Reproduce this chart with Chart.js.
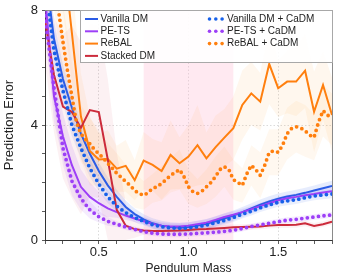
<!DOCTYPE html>
<html>
<head>
<meta charset="utf-8">
<script src="https://cdn.jsdelivr.net/npm/chart.js@4.4.1/dist/chart.umd.min.js"></script>
<style>
  html, body { margin: 0; padding: 0; background: #fff; }
</style>
</head>
<body>
<canvas id="chart" width="349" height="279"></canvas>
<script>
// pendulum masses, 0.05 grid
const masses = [0.20, 0.25, 0.30, 0.35, 0.40, 0.45, 0.50, 0.55, 0.60, 0.65, 0.70,
  0.75, 0.80, 0.85, 0.90, 0.95, 1.00, 1.05, 1.10, 1.15, 1.20, 1.25, 1.30, 1.35,
  1.40, 1.45, 1.50, 1.55, 1.60, 1.65, 1.70, 1.75, 1.80];
// finer grid used by ReBAL + CaDM
const massesFine = [0.200, 0.225, 0.250, 0.275, 0.300, 0.325, 0.350, 0.375, 0.400,
  0.425, 0.450, 0.475, 0.500, 0.525, 0.550, 0.575, 0.600, 0.625, 0.650, 0.675,
  0.700, 0.725, 0.750, 0.775, 0.800, 0.825, 0.850, 0.875, 0.900, 0.925, 0.950,
  0.975, 1.000, 1.025, 1.050, 1.075, 1.100, 1.125, 1.150, 1.175, 1.200, 1.225,
  1.250, 1.275, 1.300, 1.325, 1.350, 1.375, 1.400, 1.425, 1.450, 1.475, 1.500,
  1.525, 1.550, 1.575, 1.600, 1.625, 1.650, 1.675, 1.700, 1.725, 1.750, 1.775, 1.800];

const vanillaDM = [9.5, 7.0, 5.6, 4.6, 3.7, 3.0, 2.4, 1.9, 1.5, 1.15, 0.9, 0.72, 0.58,
  0.5, 0.45, 0.43, 0.45, 0.5, 0.56, 0.65, 0.75, 0.85, 0.97, 1.1, 1.23, 1.34, 1.44,
  1.51, 1.57, 1.64, 1.72, 1.8, 1.88];
const vanillaCaDM = [9.0, 6.6, 5.2, 4.0, 3.2, 2.5, 1.95, 1.5, 1.18, 0.95, 0.78, 0.65,
  0.53, 0.46, 0.42, 0.41, 0.42, 0.46, 0.52, 0.6, 0.68, 0.78, 0.9, 1.0, 1.12, 1.22,
  1.31, 1.36, 1.4, 1.47, 1.53, 1.57, 1.6];
const peTS = [8.5, 5.0, 3.6, 2.6, 1.85, 1.5, 1.28, 1.1, 0.97, 0.85, 0.75, 0.65, 0.56,
  0.5, 0.47, 0.47, 0.5, 0.55, 0.6, 0.7, 0.8, 0.88, 0.97, 1.07, 1.18, 1.28, 1.38,
  1.45, 1.5, 1.56, 1.6, 1.65, 1.7];
const peTSCaDM = [7.8, 5.3, 3.2, 2.05, 1.45, 1.05, 0.81, 0.65, 0.55, 0.45, 0.37, 0.29,
  0.24, 0.21, 0.2, 0.2, 0.21, 0.23, 0.25, 0.27, 0.3, 0.34, 0.4, 0.47, 0.53, 0.58,
  0.64, 0.69, 0.72, 0.76, 0.8, 0.84, 0.87];
const rebal = [16, 13, 10, 7.2, 4.3, 3.1, 2.8, 2.82, 2.48, 2.58, 2.08, 2.76, 2.61,
  2.4, 2.96, 2.67, 2.9, 3.3, 2.84, 3.22, 3.56, 3.89, 4.7, 5.1, 4.81, 6.12, 5.28,
  5.51, 5.51, 5.89, 4.46, 5.39, 4.35];
const rebalCaDM = [11.5, 10.5, 9.5, 8.0, 6.9, 5.9, 5.0, 4.1, 3.7, 3.5, 3.35, 3.15,
  3.0, 2.85, 2.67, 2.5, 2.32, 2.18, 2.03, 1.9, 1.72, 1.62, 1.55, 1.65, 1.8, 1.85,
  1.97, 2.1, 2.25, 2.35, 2.45, 2.2, 1.85, 1.68, 1.62, 1.7, 1.85, 2.0, 2.2, 2.45,
  2.55, 2.45, 2.1, 2.0, 1.9, 2.3, 2.6, 2.45, 2.25, 2.6, 3.05, 3.1, 3.05, 3.3, 3.7,
  3.88, 3.94, 3.9, 3.8, 3.65, 3.57, 4.1, 4.5, 4.35, 4.2];
const stackedDM = [7.65, 5.75, 4.64, 4.45, 3.9, 4.52, 4.45, 2.8, 1.05, 0.5, 0.38,
  0.33, 0.31, 0.31, 0.32, 0.33, 0.35, 0.37, 0.38, 0.4, 0.42, 0.44, 0.45, 0.46, 0.47,
  0.5, 0.52, 0.52, 0.53, 0.58, 0.49, 0.55, 0.64];

// half-widths of the shaded bands (0.05 grid)
const vanillaSpread = [0.8, 0.6, 0.5, 0.45, 0.4, 0.35, 0.3, 0.28, 0.25, 0.22, 0.2,
  0.18, 0.18, 0.17, 0.17, 0.17, 0.17, 0.17, 0.17, 0.18, 0.18, 0.18, 0.18, 0.18,
  0.18, 0.18, 0.18, 0.18, 0.18, 0.18, 0.18, 0.18, 0.18];
const vanillaCaDMSpread = [0.7, 0.55, 0.45, 0.4, 0.35, 0.3, 0.26, 0.22, 0.2, 0.18,
  0.16, 0.15, 0.14, 0.13, 0.13, 0.13, 0.13, 0.13, 0.14, 0.14, 0.15, 0.15, 0.15,
  0.15, 0.15, 0.15, 0.15, 0.15, 0.15, 0.15, 0.15, 0.15, 0.15];
const peTSSpread = [1.0, 0.9, 0.8, 0.7, 0.6, 0.5, 0.4, 0.3, 0.2, 0.15, 0.12, 0.12,
  0.12, 0.12, 0.12, 0.12, 0.12, 0.12, 0.12, 0.12, 0.12, 0.12, 0.12, 0.12, 0.12,
  0.12, 0.12, 0.12, 0.12, 0.12, 0.12, 0.12, 0.12];
const peTSCaDMSpread = [0.8, 0.7, 0.6, 0.5, 0.4, 0.3, 0.2, 0.15, 0.1, 0.1, 0.1, 0.1,
  0.1, 0.1, 0.1, 0.1, 0.1, 0.1, 0.1, 0.1, 0.1, 0.1, 0.1, 0.1, 0.1, 0.1, 0.1, 0.1,
  0.1, 0.1, 0.1, 0.1, 0.1];
const rebalSpread = [2, 2, 2, 1.8, 1.5, 1.2, 0.9, 1.0, 0.8, 0.9, 0.7, 1.0, 0.9, 1.0,
  1.2, 0.9, 1.1, 1.4, 0.9, 1.1, 1.0, 1.1, 1.2, 1.1, 1.0, 1.4, 1.0, 1.1, 1.2, 1.3,
  1.4, 1.2, 1.3];
const rebalCaDMSpread = [1.5, 1.4, 1.3, 1.2, 1.0, 0.9, 0.8, 0.7, 0.7, 0.6, 0.6, 0.5,
  0.5, 0.6, 0.6, 0.7, 0.6, 0.5, 0.6, 0.7, 0.7, 0.7, 0.6, 0.7, 0.8, 0.8, 0.8, 0.9,
  0.9, 0.9, 0.8, 0.9, 0.9];
const stackedSpread = [1.5, 2, 2.5, 3, 3, 3, 3, 2.8, 2.0, 0.8, 0.3, 0.15, 0.1, 0.1,
  0.1, 0.1, 0.1, 0.1, 0.1, 0.1, 0.1, 0.1, 0.1, 0.1, 0.1, 0.1, 0.1, 0.1, 0.1, 0.1,
  0.1, 0.1, 0.1];

const xTickLabels = [0.5, 1.0, 1.5];
const yTickLabels = [0, 4, 8];
const shadeFrom = 0.75;
const shadeTo = 1.25;

const FONT = "'Liberation Sans', Arial, sans-serif";
const BLUE = "#2b5ce6";
const BLUE_DOT = "#1760ea";
const PURPLE = "#9d3ff7";
const ORANGE = "#ff7f0e";
const RED = "#cc2b3b";

function pts(xs, ys) {
  return xs.map((x, i) => ({ x: x, y: ys[i] }));
}

function band(xs, mean, spread, color) {
  const upper = mean.map((v, i) => v + spread[i]);
  const lower = mean.map((v, i) => Math.max(0, v - spread[i]));
  return [
    { label: "", data: pts(xs, upper), fill: "+1", backgroundColor: color,
      borderWidth: 0, pointRadius: 0, order: 20, clip: 0, isBand: true },
    { label: "", data: pts(xs, lower), fill: false, borderWidth: 0,
      pointRadius: 0, order: 20, clip: 0, isBand: true },
  ];
}

function solid(label, ys, color, order) {
  return { label: label, data: pts(masses, ys), borderColor: color,
    backgroundColor: color, borderWidth: 2, pointRadius: 0, fill: false,
    tension: 0, order: order, clip: 0 };
}

function dotted(label, xs, ys, color, order) {
  return { label: label, data: pts(xs, ys), borderColor: color,
    backgroundColor: color, borderWidth: 3.8, borderDash: [0, 5.6],
    borderCapStyle: "round", pointRadius: 0, fill: false, tension: 0,
    order: order, clip: 0, dotted: true };
}

const rebalCaDMCoarse = rebalCaDM.filter((v, i) => i % 2 === 0);

const datasets = [
  ...band(masses, rebal, rebalSpread, "rgba(255, 150, 40, 0.08)"),
  ...band(masses, rebalCaDMCoarse, rebalCaDMSpread, "rgba(255, 150, 40, 0.07)"),
  ...band(masses, stackedDM, stackedSpread, "rgba(210, 60, 80, 0.07)"),
  ...band(masses, peTS, peTSSpread, "rgba(160, 70, 250, 0.12)"),
  ...band(masses, peTSCaDM, peTSCaDMSpread, "rgba(160, 70, 250, 0.10)"),
  ...band(masses, vanillaDM, vanillaSpread, "rgba(50, 100, 235, 0.12)"),
  ...band(masses, vanillaCaDM, vanillaCaDMSpread, "rgba(50, 100, 235, 0.10)"),
  solid("Vanilla DM", vanillaDM, BLUE, 9),
  solid("PE-TS", peTS, PURPLE, 8),
  solid("ReBAL", rebal, ORANGE, 7),
  solid("Stacked DM", stackedDM, RED, 6),
  dotted("Vanilla DM + CaDM", masses, vanillaCaDM, BLUE_DOT, 3),
  dotted("PE-TS + CaDM", masses, peTSCaDM, PURPLE, 4),
  dotted("ReBAL + CaDM", massesFine, rebalCaDM, ORANGE, 5),
];

const isLabeled = (list, v) => list.some((t) => Math.abs(t - v) < 1e-6);

const shadePlugin = {
  id: "massShade",
  beforeDatasetsDraw(chart) {
    const { ctx, chartArea, scales } = chart;
    const x1 = scales.x.getPixelForValue(shadeFrom);
    const x2 = scales.x.getPixelForValue(shadeTo);
    ctx.save();
    ctx.fillStyle = "rgba(255, 182, 210, 0.3)";
    ctx.fillRect(x1, chartArea.top, x2 - x1, chartArea.bottom - chartArea.top);
    ctx.restore();
  },
};

const framePlugin = {
  id: "frame",
  afterDatasetsDraw(chart) {
    const { ctx, chartArea } = chart;
    ctx.save();
    ctx.strokeStyle = "#8a8a8a";
    ctx.lineWidth = 1;
    ctx.beginPath();
    ctx.moveTo(chartArea.left, chartArea.top + 0.5);
    ctx.lineTo(chartArea.right + 0.5, chartArea.top + 0.5);
    ctx.lineTo(chartArea.right + 0.5, chartArea.bottom);
    ctx.stroke();
    ctx.restore();
  },
};

// two-column legend like the original figure
const legendPlugin = {
  id: "twoColLegend",
  afterDraw(chart) {
    const { ctx, chartArea } = chart;
    const boxLeft = 80.5;
    const boxTop = chartArea.top + 0.5;
    const boxRight = chartArea.right + 0.5;
    const boxBottom = 62.5;
    ctx.save();
    ctx.fillStyle = "rgba(255, 255, 255, 0.9)";
    ctx.fillRect(boxLeft, boxTop, boxRight - boxLeft, boxBottom - boxTop);
    ctx.strokeStyle = "#a8a8a8";
    ctx.lineWidth = 1;
    ctx.strokeRect(boxLeft, boxTop, boxRight - boxLeft, boxBottom - boxTop);

    const items = chart.data.datasets.filter((d) => !d.isBand);
    const col1 = items.filter((d) => !d.dotted);
    const col2 = items.filter((d) => d.dotted);
    const rowY = (i) => 19 + i * 12.3;
    ctx.font = "10px " + FONT;
    ctx.textBaseline = "middle";
    ctx.fillStyle = "#222";

    col1.forEach((d, i) => {
      const y = rowY(i);
      ctx.strokeStyle = d.borderColor;
      ctx.lineWidth = 2;
      ctx.beginPath();
      ctx.moveTo(85, y);
      ctx.lineTo(98, y);
      ctx.stroke();
      ctx.fillStyle = "#222";
      ctx.fillText(d.label, 100.5, y);
    });

    // dotted entries listed in legend order
    const order2 = ["Vanilla DM + CaDM", "PE-TS + CaDM", "ReBAL + CaDM"];
    order2.forEach((name, i) => {
      const d = col2.find((c) => c.label === name);
      const y = rowY(i);
      ctx.fillStyle = d.borderColor;
      [209.5, 215.8, 222.1].forEach((cx) => {
        ctx.beginPath();
        ctx.arc(cx, y, 1.8, 0, Math.PI * 2);
        ctx.fill();
      });
      ctx.fillStyle = "#222";
      ctx.fillText(name, 227, y);
    });
    ctx.restore();
  },
};

new Chart(document.getElementById("chart"), {
  type: "line",
  data: { datasets: datasets },
  options: {
    responsive: false,
    animation: false,
    devicePixelRatio: 1,
    layout: { padding: { left: 0, right: 17, top: 10, bottom: 0 } },
    plugins: { legend: { display: false }, tooltip: { enabled: false } },
    scales: {
      x: {
        type: "linear",
        min: 0.2,
        max: 1.8,
        afterFit(scale) {
          scale.height = 39;
          scale.paddingLeft = 0;
          scale.paddingRight = 0;
        },
        ticks: {
          stepSize: 0.1,
          autoSkip: false,
          maxRotation: 0,
          padding: 1,
          color: "#222",
          font: { family: FONT, size: 13 },
          callback: (v) => (isLabeled(xTickLabels, v) ? v.toFixed(1) : ""),
        },
        grid: {
          color: (c) =>
            c.tick && isLabeled(xTickLabels, c.tick.value)
              ? "rgba(190, 190, 190, 0.7)"
              : "transparent",
          lineWidth: 0.8,
          tickLength: 4,
          tickColor: "#333",
          tickBorderDash: [],
        },
        border: { display: true, color: "#333", width: 1, dash: [1.5, 2] },
        title: {
          display: true,
          text: "Pendulum Mass",
          color: "#222",
          font: { family: FONT, size: 12 },
          padding: { top: 0, bottom: 3 },
        },
      },
      y: {
        min: 0,
        max: 8,
        afterFit(scale) {
          scale.width = 45;
          scale.paddingTop = 0;
          scale.paddingBottom = 0;
        },
        ticks: {
          stepSize: 1,
          autoSkip: false,
          padding: 4,
          color: "#222",
          font: { family: FONT, size: 13 },
          callback: (v) => (isLabeled(yTickLabels, v) ? String(v) : ""),
        },
        grid: {
          color: (c) =>
            c.tick && c.tick.value === 4 ? "rgba(190, 190, 190, 0.7)" : "transparent",
          lineWidth: 0.8,
          tickLength: 3,
          tickColor: "#333",
          tickBorderDash: [],
        },
        border: { display: true, color: "#333", width: 1, dash: [1.5, 2] },
        title: {
          display: true,
          text: "Prediction Error",
          color: "#222",
          font: { family: FONT, size: 13 },
          padding: { top: 1.5, bottom: 0 },
        },
      },
    },
  },
  plugins: [shadePlugin, framePlugin, legendPlugin],
});
</script>
</body>
</html>
